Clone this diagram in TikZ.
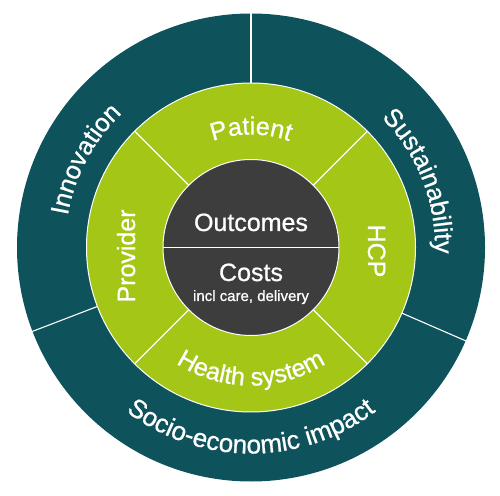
\documentclass[tikz,border=0pt]{standalone}
\usepackage{fontspec}
\setmainfont{Liberation Sans}[FakeBold=0.8]
\usetikzlibrary{decorations.text,calc}
\definecolor{ringTeal}{HTML}{0E535C}
\definecolor{ringGreen}{HTML}{A3C617}
\definecolor{coreGray}{HTML}{3D3D3D}
\tikzset{
  divider/.style={draw=white, line width=1.1pt},
  bigtext/.style={font=\fontsize{25}{30}\selectfont, text=white, inner sep=0pt},
  smalltext/.style={font=\fontsize{15}{18}\selectfont, text=white, inner sep=0pt},
}
\newcommand{\arclabel}[6]{% center, radius, start, end, size, text
  \path[decorate, decoration={text along path, text align=center,
     text={|\fontsize{#5}{30}\selectfont\color{white}|#6}}]
     ($(#1)+(#3:#2)$) arc[start angle=#3, end angle=#4, radius=#2];}
\begin{document}
\begin{tikzpicture}[x=1pt,y=1pt]
\useasboundingbox (0,0) rectangle (500,495);
\coordinate (c) at (251,247.5);
% rings
\fill[ringTeal] (c) circle[radius=234];
\draw[draw=white, line width=1pt, fill=ringGreen] (c) circle[radius=164.5];
% outer dividers
\foreach \a in {90,201,336.5}{
  \draw[divider] ($(c)+(\a:164.5)$) -- ($(c)+(\a:234.5)$);
}
% green dividers
\foreach \a in {45,135,225,315}{
  \draw[divider] ($(c)+(\a:88)$) -- ($(c)+(\a:164.5)$);
}
% core
\draw[draw=white, line width=1pt, fill=coreGray] (c) circle[radius=88];
\draw[divider] ($(c)+(-88,0)$) -- ($(c)+(88,0)$);
% core texts
\node[bigtext, anchor=base] (outcomes) at (251,264) {Outcomes};
\node[bigtext, anchor=base] (costs) at (251,214) {Costs};
\node[smalltext, anchor=base] (incl) at (251,194) {incl care, delivery};
% green ring texts
\arclabel{c}{113}{150}{30}{25}{Patient}
\arclabel{c}{138}{200}{340}{25}{Health system}
\node[bigtext, anchor=base, rotate=90] (provider) at (135,239) {Provider};
\node[bigtext, anchor=base, rotate=-90] (hcp) at (368,244) {HCP};
% outer ring texts
\arclabel{c}{186}{200}{104}{25.5}{Innovation}
\arclabel{c}{184}{70}{-27}{25.5}{Sustainability}
\arclabel{c}{206}{190}{350}{26}{Socio-economic impact}
\end{tikzpicture}
\end{document}
